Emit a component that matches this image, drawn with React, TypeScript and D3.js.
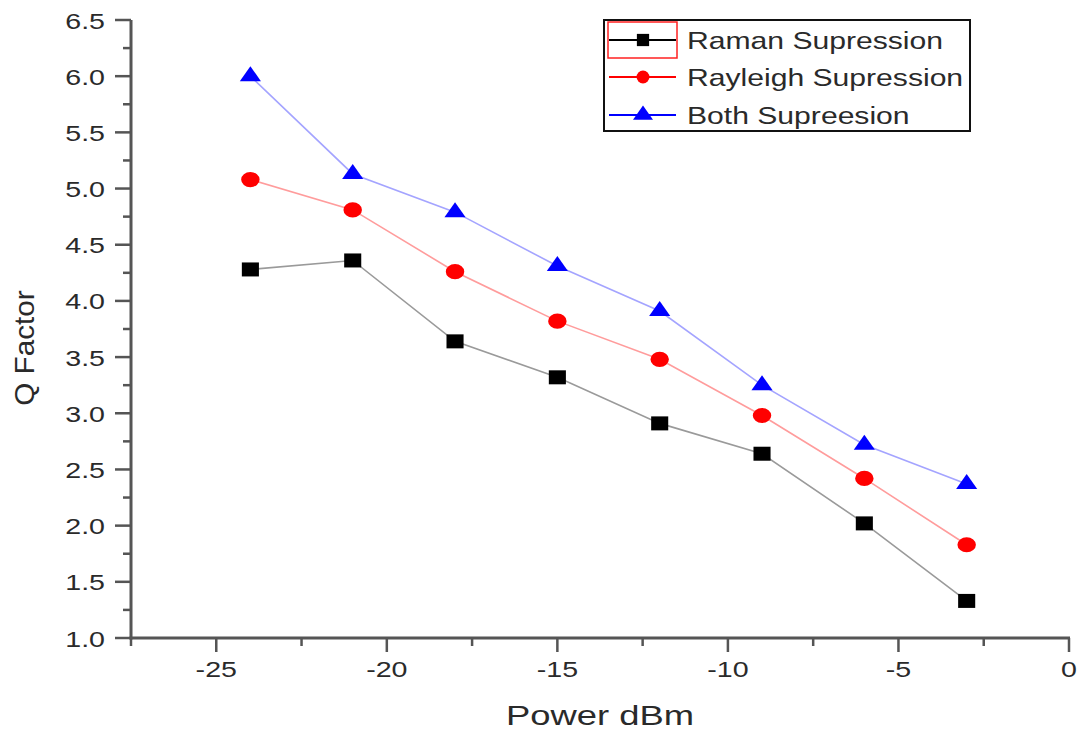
import React, { useEffect, useRef } from 'react';
import * as d3 from 'd3';

// Q factor vs launch power
const power = [-24, -21, -18, -15, -12, -9, -6, -3];
const ramanQ = [4.28, 4.36, 3.64, 3.32, 2.91, 2.64, 2.02, 1.33];
const rayleighQ = [5.08, 4.81, 4.26, 3.82, 3.48, 2.98, 2.42, 1.83];
const bothQ = [6.0, 5.13, 4.79, 4.31, 3.91, 3.25, 2.72, 2.37];
const seriesNames = ['Raman Supression', 'Rayleigh Supression', 'Both Supreesion'];
const xTicks = [-25, -20, -15, -10, -5, 0];
const yTicks = [1.0, 1.5, 2.0, 2.5, 3.0, 3.5, 4.0, 4.5, 5.0, 5.5, 6.0, 6.5];

const FONT = '"Liberation Sans", Arial, sans-serif';

const App = () => {
  const svgRef = useRef<SVGSVGElement>(null);

  useEffect(() => {
    const svg = d3.select(svgRef.current);
    svg.selectAll('*').remove();

    const left = 131;
    const right = 1069;
    const top = 20;
    const bottom = 638;

    const x = d3.scaleLinear().domain([-27.5, 0]).range([left, right]);
    const y = d3.scaleLinear().domain([1.0, 6.5]).range([bottom, top]);

    const series = [
      { name: seriesNames[0], values: ramanQ, line: '#9a9a9a', fill: '#000', legendLine: '#000', shape: d3.symbolSquare, size: 196, legendSize: 150 },
      { name: seriesNames[1], values: rayleighQ, line: '#ff9c9c', fill: '#ff0000', legendLine: '#ff0000', shape: d3.symbolCircle, size: 180, legendSize: 130 },
      { name: seriesNames[2], values: bothQ, line: '#a4a4ff', fill: '#0000ff', legendLine: '#0000ff', shape: d3.symbolTriangle, size: 130, legendSize: 120 },
    ];

    // stretched text like the exported figure
    const label = (g, txt, tx, ty, size, sx, anchor, rotate = 0) =>
      g.append('text')
        .attr('transform', `translate(${tx},${ty}) rotate(${rotate}) scale(${sx},1)`)
        .attr('text-anchor', anchor)
        .attr('font-family', FONT)
        .attr('font-size', size)
        .attr('fill', '#2a2a2a')
        .text(txt);

    // lines
    const line = d3.line<number>()
      .x((_, i) => x(power[i]))
      .y(d => y(d));

    series.forEach(s => {
      svg.append('path')
        .datum(s.values)
        .attr('d', line)
        .attr('fill', 'none')
        .attr('stroke', s.line)
        .attr('stroke-width', 1.6);
    });

    // markers
    series.forEach(s => {
      svg.append('g')
        .selectAll('path')
        .data(s.values)
        .enter().append('path')
        .attr('transform', (d, i) => `translate(${x(power[i])},${y(d)}) scale(1.22,1)`)
        .attr('d', d3.symbol().type(s.shape).size(s.size)())
        .attr('fill', s.fill);
    });

    // axes
    const axis = svg.append('g').attr('stroke', '#555').attr('fill', 'none');
    axis.append('line')
      .attr('x1', left).attr('x2', left).attr('y1', top).attr('y2', bottom + 1.5)
      .attr('stroke-width', 3);
    axis.append('line')
      .attr('x1', left - 1.5).attr('x2', right + 1).attr('y1', bottom).attr('y2', bottom)
      .attr('stroke-width', 3);

    yTicks.forEach((t, i) => {
      axis.append('line')
        .attr('x1', left - 16).attr('x2', left).attr('y1', y(t)).attr('y2', y(t))
        .attr('stroke-width', 2.5);
      if (i < yTicks.length - 1) {
        const m = (t + yTicks[i + 1]) / 2;
        axis.append('line')
          .attr('x1', left - 8).attr('x2', left).attr('y1', y(m)).attr('y2', y(m))
          .attr('stroke-width', 2.5);
      }
      label(svg, t.toFixed(1), 105, y(t) + 8.5, 22, 1.3, 'end');
    });

    xTicks.forEach((t, i) => {
      axis.append('line')
        .attr('x1', x(t)).attr('x2', x(t)).attr('y1', bottom).attr('y2', bottom + 14)
        .attr('stroke-width', 2.5);
      const m = t - 2.5;
      axis.append('line')
        .attr('x1', x(m)).attr('x2', x(m)).attr('y1', bottom).attr('y2', bottom + 8)
        .attr('stroke-width', 2.5);
      label(svg, String(t), x(t), 677, 22, 1.3, 'middle');
    });

    // axis titles
    label(svg, 'Power dBm', (left + right) / 2, 725, 28, 1.3, 'middle');
    label(svg, 'Q Factor', 34, 348, 27, 1.1, 'middle', -90);

    // legend
    const lg = svg.append('g');
    lg.append('rect')
      .attr('x', 604).attr('y', 20).attr('width', 366).attr('height', 111)
      .attr('fill', '#fff').attr('stroke', '#111').attr('stroke-width', 2);
    lg.append('rect')
      .attr('x', 608).attr('y', 22).attr('width', 69).attr('height', 36)
      .attr('fill', 'none').attr('stroke', '#ff2020').attr('stroke-width', 1.5);

    const rows = [40, 77, 115];
    series.forEach((s, i) => {
      lg.append('line')
        .attr('x1', 609).attr('x2', 676).attr('y1', rows[i]).attr('y2', rows[i])
        .attr('stroke', s.legendLine).attr('stroke-width', 2);
      lg.append('path')
        .attr('transform', `translate(643,${rows[i]}) scale(${i === 2 ? 1.2 : 1},1)`)
        .attr('d', d3.symbol().type(s.shape).size(s.legendSize)())
        .attr('fill', s.fill);
      label(lg, s.name, 687, rows[i] + 8.5, 24, 1.255, 'start');
    });
  }, []);

  return (
    <svg
      ref={svgRef}
      width={1082}
      height={733}
      style={{ position: 'absolute', left: 0, top: 0, background: '#fff' }}
    ></svg>
  );
};

export default App;
